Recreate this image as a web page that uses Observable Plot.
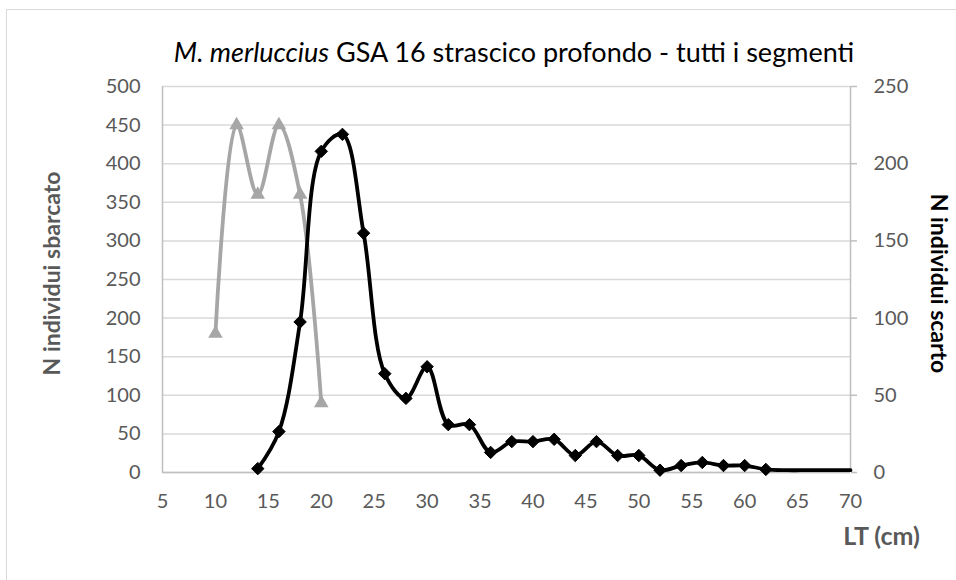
<!DOCTYPE html>
<html>
<head>
<meta charset="utf-8">
<script src="https://cdn.jsdelivr.net/npm/d3@7"></script>
<script src="https://cdn.jsdelivr.net/npm/@observablehq/plot@0.6"></script>
<style>
  html, body { margin: 0; padding: 0; background: #fff; }
  #wrap { position: relative; width: 956px; height: 580px; overflow: hidden; font-family: Lato, "Open Sans", sans-serif; }
  #frame { position: absolute; left: 6px; top: 9px; width: 1000px; height: 620px; border: 1.5px solid #d9d9d9; pointer-events: none; }
  #title { position: absolute; left: 0; width: 1028px; top: 35px; text-align: center; font-size: 27px; color: #000; white-space: nowrap; }
</style>
</head>
<body>
<div id="wrap">
  <div id="chart"></div>
  <div id="frame"></div>
  <div id="title"><i>M. merluccius</i> GSA 16 strascico profondo - tutti i segmenti</div>
</div>
<script>
// Lengths (cm) and values
const sbarcatoLT = [14,16,18,20,22,24,26,28,30,32,34,36,38,40,42,44,46,48,50,52,54,56,58,60,62,64,66,68,70];
const sbarcato   = [5,53,195,416,438,310,128,96,137,62,62,26,40,40,43,22,40,22,22,3,9,13,9,9,4,3,3,3,3];
const sbarcatoMarkerMaxLT = 62;
const scartoLT = [10,12,14,16,18,20];
const scarto   = [90,225,180,225,180,45];
const xTicks = [5,10,15,20,25,30,35,40,45,50,55,60,65,70];
const yLeftTicks = [0,50,100,150,200,250,300,350,400,450,500];
const yRightTicks = [0,50,100,150,200,250];

const sb = sbarcatoLT.map((lt, i) => ({lt, v: sbarcato[i]}));
const sc = scartoLT.map((lt, i) => ({lt, v: scarto[i]}));
// right axis (scarto) maps to left scale: 0-250 -> 0-500
const k = 500 / 250;

const plot = Plot.plot({
  width: 956,
  height: 580,
  marginLeft: 162,
  marginRight: 106,
  marginTop: 86,
  marginBottom: 108,
  style: {fontFamily: "Lato, 'Open Sans', sans-serif", fontSize: "20px", color: "#595959", background: "transparent", overflow: "visible"},
  x: {domain: [5, 70]},
  y: {domain: [0, 500]},
  marks: [
    Plot.gridY(yLeftTicks, {stroke: "#d9d9d9", strokeOpacity: 1, strokeWidth: 1.5}),
    Plot.ruleX([5], {stroke: "#bfbfbf", strokeWidth: 1.5}),
    Plot.ruleX([70], {stroke: "#bfbfbf", strokeWidth: 1.5}),
    Plot.ruleY([0], {stroke: "#bfbfbf", strokeWidth: 1.5}),
    Plot.axisX(xTicks, {tickSize: 0, tickPadding: 21, label: null, fill: "#595959"}),
    Plot.axisY(yLeftTicks, {anchor: "left", tickSize: 0, tickPadding: 22, label: null, fill: "#595959"}),
    Plot.axisY(yRightTicks.map(d => d * k), {anchor: "right", tickSize: 6, tickPadding: 17, stroke: "#bfbfbf", strokeWidth: 1.5, label: null, fill: "#595959", tickFormat: d => d / k}),
    Plot.line(sc, {x: "lt", y: d => d.v * k, curve: "catmull-rom", stroke: "#a6a6a6", strokeWidth: 3.8}),
    Plot.dot(sc, {x: "lt", y: d => d.v * k, symbol: "triangle", r: 5.4, fill: "#a6a6a6", stroke: "none"}),
    Plot.line(sb, {x: "lt", y: "v", curve: "catmull-rom", stroke: "#000", strokeWidth: 3.8}),
    Plot.dot(sb.filter(d => d.lt <= sbarcatoMarkerMaxLT), {x: "lt", y: "v", symbol: "diamond2", r: 5.6, fill: "#000", stroke: "#000", strokeWidth: 1}),
    Plot.text(["N individui sbarcato"], {frameAnchor: "left", textAnchor: "middle", dx: -110, dy: -6, rotate: -90, fontWeight: "bold", fill: "#595959", fontSize: 23}),
    Plot.text(["N individui scarto"], {frameAnchor: "right", textAnchor: "middle", dx: 88, dy: 4, rotate: 90, fontWeight: "bold", fill: "#000", fontSize: 23}),
    Plot.text(["LT (cm)"], {frameAnchor: "bottom-right", textAnchor: "middle", dx: 31, dy: 72, fontWeight: "bold", fill: "#595959", fontSize: 25})
  ]
});
document.getElementById("chart").appendChild(plot);
</script>
</body>
</html>
